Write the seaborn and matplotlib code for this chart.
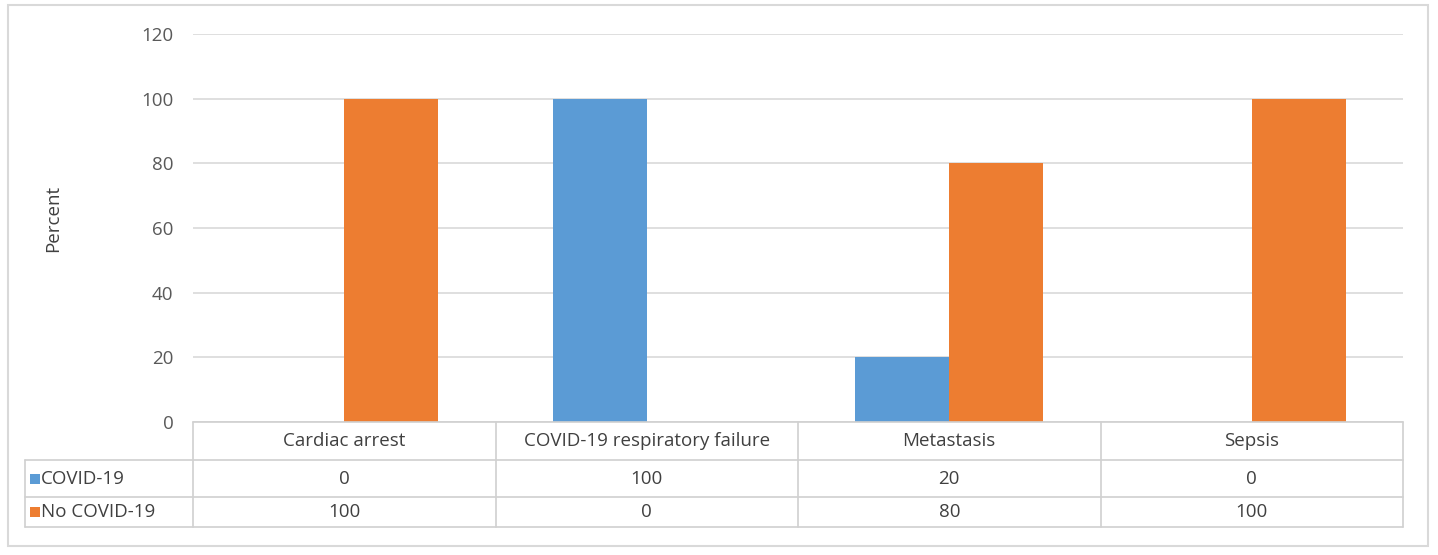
import numpy as np
import pandas as pd
import matplotlib
matplotlib.use('agg')
import matplotlib.pyplot as plt
import matplotlib.transforms as mtransforms
from matplotlib.patches import Rectangle
import seaborn as sns

sns.set_style('white')
plt.rcParams['font.family'] = ['Open Sans', 'DejaVu Sans']

categories = ['Cardiac arrest', 'COVID-19 respiratory failure', 'Metastasis', 'Sepsis']
groups = ['COVID-19', 'No COVID-19']
covid = [0, 100, 20, 0]
no_covid = [100, 0, 80, 100]
yticks = [0, 20, 40, 60, 80, 100, 120]

cmap = ['#5b9bd5', '#ed7d31']
grid_c = '#d9d9d9'
text_c = '#404040'
fs = 13.5

df = pd.DataFrame({
    'cause': categories * 2,
    'group': [groups[0]] * 4 + [groups[1]] * 4,
    'percent': covid + no_covid,
})

W, H = 1438, 555
fig = plt.figure(figsize=(W / 100, H / 100), dpi=100)
ax = fig.add_axes([193 / W, 1 - 422 / H, (1403 - 193) / W, (422 - 34) / H])

sns.barplot(data=df, x='cause', y='percent', hue='group', palette=cmap,
            width=0.62, gap=0, ax=ax, legend=False, saturation=1, errorbar=None,
            edgecolor='none', linewidth=0)

ax.set_ylim(0, 120)
ax.set_xlim(-0.5, 3.5)
ax.set_yticks(yticks)
ax.set_yticklabels([str(t) for t in yticks], fontsize=fs, color='#595959')
ax.tick_params(axis='y', length=0, pad=14)
ax.set_xticks([])
ax.set_xlabel('')
ax.set_ylabel('Percent', fontsize=fs, color=text_c)
ax.yaxis.set_label_coords(62 / W, 1 - 218 / H, transform=fig.transFigure)
for s in ax.spines.values():
    s.set_visible(False)
ax.grid(axis='y', color=grid_c, linewidth=1.2)
ax.set_axisbelow(True)

# data table below the plot
tr = mtransforms.blended_transform_factory(ax.transData, fig.transFigure)
def fy(p):
    return 1 - p / H

rows = [422, 460, 497, 527]
line_c = '#d0d0d0'
left_x = 25 / W
for i, r in enumerate(rows):
    if i == 0:
        fig.add_artist(plt.Line2D([-0.5, 3.5], [fy(r), fy(r)], transform=tr, color=line_c, lw=1.2))
    else:
        fig.add_artist(plt.Line2D([left_x, 1403 / W], [fy(r), fy(r)], transform=fig.transFigure, color=line_c, lw=1.2))
for k in range(5):
    fig.add_artist(plt.Line2D([k - 0.5, k - 0.5], [fy(rows[0]), fy(rows[-1])], transform=tr, color=line_c, lw=1.2))
fig.add_artist(plt.Line2D([left_x, left_x], [fy(rows[1]), fy(rows[-1])], transform=fig.transFigure, color=line_c, lw=1.2))

for k, cat in enumerate(categories):
    fig.text(k, fy((rows[0] + rows[1]) / 2), cat, transform=tr, ha='center', va='center', fontsize=fs, color=text_c)
    fig.text(k, fy((rows[1] + rows[2]) / 2), str(covid[k]), transform=tr, ha='center', va='center', fontsize=fs, color=text_c)
    fig.text(k, fy((rows[2] + rows[3]) / 2), str(no_covid[k]), transform=tr, ha='center', va='center', fontsize=fs, color=text_c)

for j, g in enumerate(groups):
    yc = (rows[j + 1] + rows[j + 2]) / 2
    fig.add_artist(Rectangle((30 / W, fy(yc + 5)), 10 / W, 10 / H, transform=fig.transFigure,
                             facecolor=cmap[j], edgecolor='none'))
    fig.text(41 / W, fy(yc), g, ha='left', va='center', fontsize=fs, color=text_c)

# outer chart border
fig.add_artist(Rectangle((8 / W, fy(546)), (1428 - 8) / W, (546 - 5) / H, transform=fig.transFigure,
                         facecolor='none', edgecolor='#d9d9d9', lw=1.5))

fig.savefig('out.png', dpi=100)
